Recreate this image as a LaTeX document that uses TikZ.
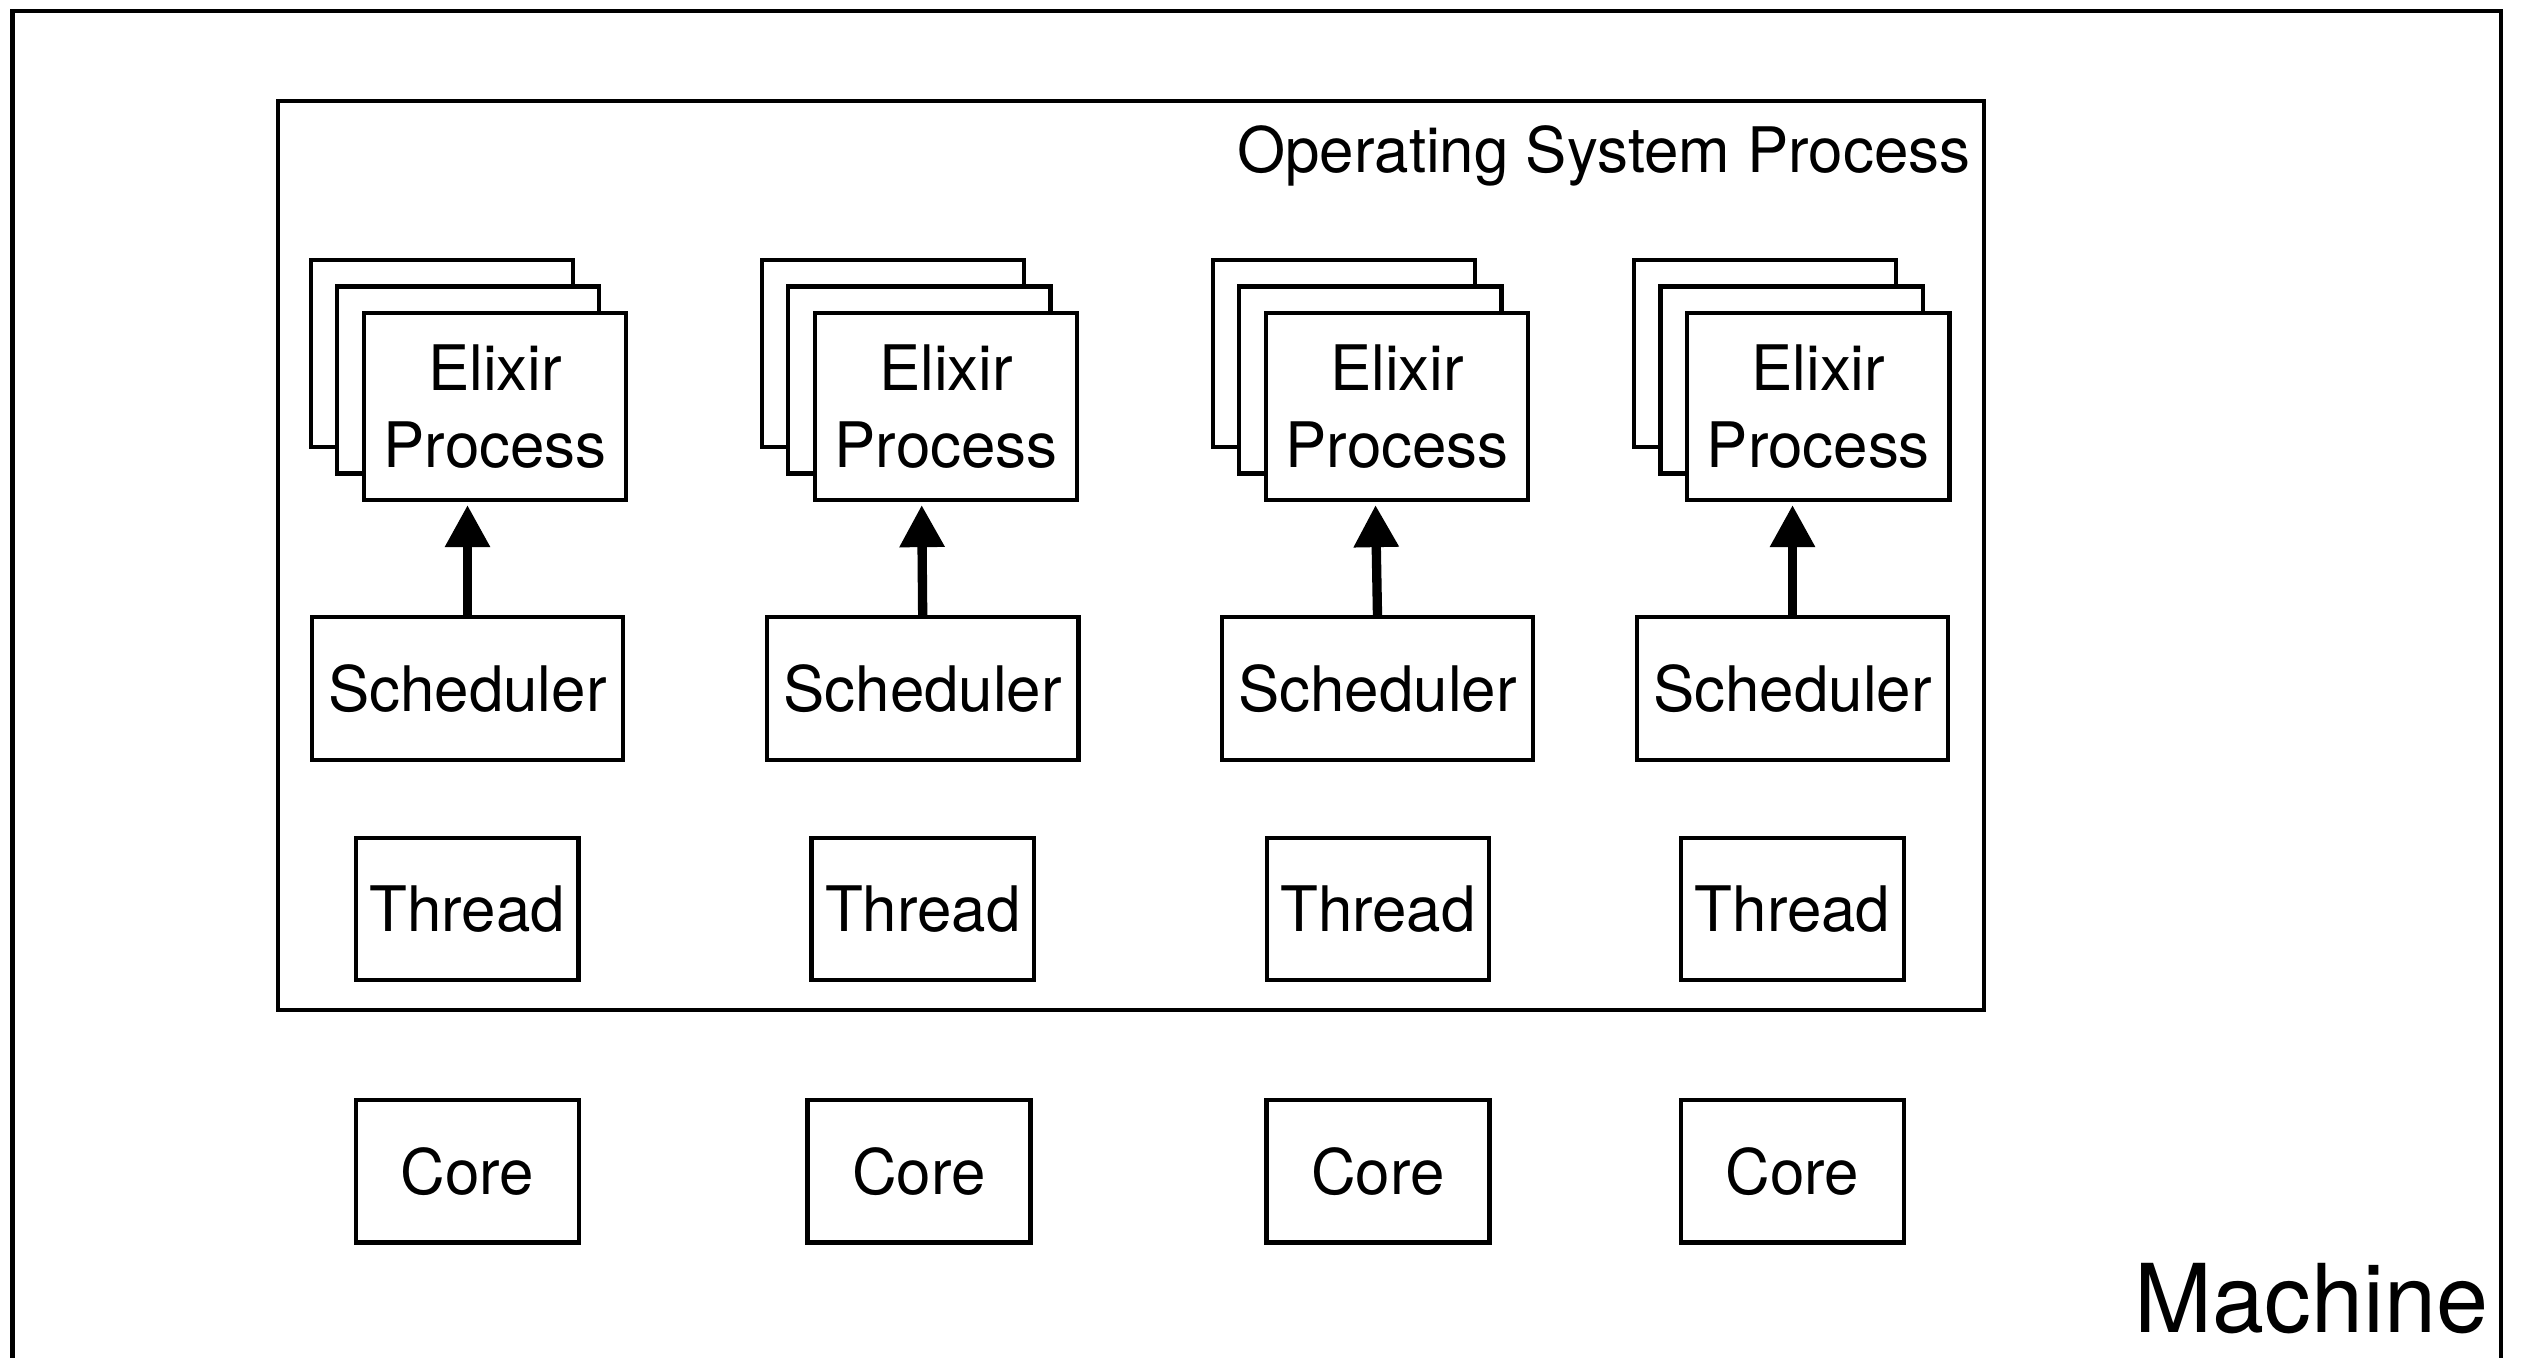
\documentclass[tikz,border=0pt]{standalone}
\usepackage{fontspec}
\setmainfont[FakeStretch=0.985]{TeX Gyre Heros}
\usetikzlibrary{arrows.meta,calc}
\tikzset{
  frame/.style={draw, line width=1.14pt, inner sep=0pt, outer sep=0pt},
  box/.style={draw, fill=white, line width=1.2pt, inner sep=0pt, outer sep=0pt},
  card/.style={box, minimum width=2.62cm, minimum height=1.867cm},
  txt/.style={font=\fontsize{17.85pt}{21.8pt}\selectfont, align=center},
  bigtxt/.style={font=\fontsize{27pt}{30pt}\selectfont},
  flow/.style={line width=2.65pt, -{Triangle[length=0.42cm, width=0.43cm]}}
}
\begin{document}
\begin{tikzpicture}[x=0.01cm, y=-0.01cm]
\useasboundingbox (0,0) rectangle (2522,1357);
\clip (0,0) rectangle (2522,1357);

% machine frame (its lower edge runs off the page)
\node[frame, line width=1.28pt, minimum width=24.87cm, minimum height=13.885cm] (machine) at (1256.5,705.75) {};
\node[bigtxt, anchor=base east, inner sep=0pt] (machinelabel) at (2489,1332) {Machine};

% operating system process frame
\node[frame, minimum width=17.055cm, minimum height=9.09cm] (osp) at (1130.75,555.5) {};
\node[txt, anchor=base east, inner sep=0pt] (osplabel) at (1971,172.5) {Operating System Process};

% one column per scheduler: stacked processes, scheduler, thread, core
\foreach \i/\ex/\sx/\tx/\cx/\dx in {1/495/467.5/467.2/467.5/0, 2/946/922.7/922.8/919/-1, 3/1397/1377.5/1378/1378/-2, 4/1818.3/1792.5/1792.5/1792.5/0} {
  \node[card] (back\i) at ({\ex-53.3},353.4) {};
  \node[card] (mid\i) at ({\ex-26.7},380) {};
  \node[card, txt] (ep\i) at (\ex,406.7) {Elixir\\Process};
  \node[box, txt, minimum width=3.115cm, minimum height=1.433cm] (sch\i) at (\sx,688.3) {Scheduler};
  \node[box, txt, minimum width=2.225cm, minimum height=1.417cm] (th\i) at (\tx,909.2) {Thread};
  \node[box, txt, minimum width=2.23cm, minimum height=1.425cm] (co\i) at (\cx,1171.2) {Core};
  \coordinate (tip\i) at ($(sch\i.north |- ep\i.south)+(\dx,5)$);
  \draw[flow] (sch\i.north) -- (tip\i);
}
\end{tikzpicture}
\end{document}
